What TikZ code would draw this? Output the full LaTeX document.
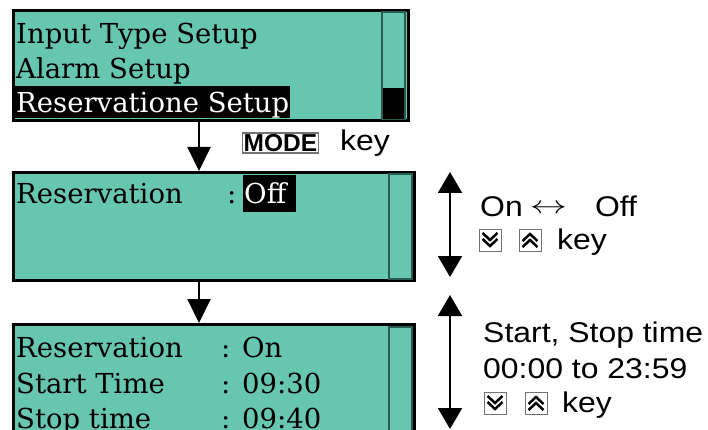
\documentclass[tikz,border=0pt]{standalone}
\usepackage{fontspec}
\newfontfamily\lcdfont{DejaVu Serif}
\newfontfamily\keyfont[FakeStretch=1.12]{Liberation Sans}
\newfontfamily\modefont{Liberation Sans}
\usetikzlibrary{arrows.meta}
\definecolor{lcdgreen}{RGB}{103,198,176}
\definecolor{lcdedge}{RGB}{40,92,80}
\begin{document}
\begin{tikzpicture}[x=1pt, y=-1pt,
  lcd/.style={draw=black, line width=3pt, fill=lcdgreen, inner sep=0},
  bar/.style={draw=lcdedge, line width=1.2pt},
  lcdtxt/.style={anchor=base west, inner sep=0, font=\lcdfont\fontsize{27.5}{30}\selectfont},
  sel/.style={lcdtxt, fill=black, text=white, inner xsep=1pt},
  keytxt/.style={anchor=base west, inner sep=0, font=\keyfont\fontsize{28.5}{30}\selectfont},
  modekey/.style={draw=black!55, line width=1.2pt, fill=white, anchor=west, inner xsep=1pt, inner ysep=0, minimum height=20pt, font=\modefont\bfseries\fontsize{24.5}{26}\selectfont},
  keybox/.style={draw=black!55, line width=1pt, fill=white, minimum size=22pt, inner sep=0},
  downkey/.style={keybox, path picture={
    \draw[black, line width=2.5pt] ([shift={(-7.5pt,7pt)}]path picture bounding box.center) -- ([shift={(0pt,0pt)}]path picture bounding box.center) -- ([shift={(7.5pt,7pt)}]path picture bounding box.center);
    \draw[black, line width=2.5pt] ([shift={(-7.5pt,1pt)}]path picture bounding box.center) -- ([shift={(0pt,-6pt)}]path picture bounding box.center) -- ([shift={(7.5pt,1pt)}]path picture bounding box.center);}},
  upkey/.style={keybox, path picture={
    \draw[black, line width=2.5pt] ([shift={(-7.5pt,-7pt)}]path picture bounding box.center) -- ([shift={(0pt,0pt)}]path picture bounding box.center) -- ([shift={(7.5pt,-7pt)}]path picture bounding box.center);
    \draw[black, line width=2.5pt] ([shift={(-7.5pt,-1pt)}]path picture bounding box.center) -- ([shift={(0pt,6pt)}]path picture bounding box.center) -- ([shift={(7.5pt,-1pt)}]path picture bounding box.center);}},
  flow/.style={line width=2pt, -{Triangle[width=23pt,length=24pt]}},
  updown/.style={line width=2pt, {Triangle[width=24pt,length=21pt]}-{Triangle[width=24pt,length=21pt]}}]
  \useasboundingbox (0,0) rectangle (708,430);
  \clip (0,0) rectangle (708,430);
  % menu screen
  \node[lcd, minimum width=395pt, minimum height=110pt] (lcd1) at (211,65.5) {};
  \draw[bar] (382,12) rectangle (405,119.5);
  \fill (383,88) rectangle (404.4,119);
  \node[lcdtxt] (inp) at (16,44) {Input Type Setup};
  \node[lcdtxt] (alm) at (16,79) {Alarm Setup};
  \node[sel, text height=27pt, text depth=5pt] (rsv) at (15,113) {Reservatione Setup};
  % reservation off
  \node[lcd, minimum width=401pt, minimum height=108pt] (lcd2) at (214,226.5) {};
  \draw[bar] (389,174) rectangle (412,279);
  \node[lcdtxt] (res2) at (16,204) {Reservation};
  \node[lcdtxt] (res2c) at (227,204) {:};
  \node[sel, text height=29pt, text depth=8pt, text width=51pt, align=left] (off) at (243,204) {Off};
  % reservation on
  \node[lcd, minimum width=401pt, minimum height=155pt] (lcd3) at (214,402) {};
  \draw[bar] (389,327) rectangle (412,475);
  \node[lcdtxt] (res3) at (16,357) {Reservation};
  \node[lcdtxt] (res3v) at (221,357) {: On};
  \node[lcdtxt] (start) at (16,393) {Start Time};
  \node[lcdtxt] (startv) at (221,393) {: 09:30};
  \node[lcdtxt] (stop) at (16,428) {Stop time};
  \node[lcdtxt] (stopv) at (221,428) {: 09:40};
  % arrows between screens
  \coordinate (col) at (199,0);
  \draw[flow] (lcd1.south -| col) -- (lcd2.north -| col);
  \draw[flow] (lcd2.south -| col) -- (lcd3.north -| col);
  \node[modekey] (mode) at (242,143) {MODE};
  \node[keytxt] (modelbl) at (340,151) {key};
  % up/down keys
  \coordinate (sw1top) at (450,172);
  \coordinate (sw1bot) at (450,277);
  \coordinate (sw2top) at (450,295);
  \coordinate (sw2bot) at (450,429);
  \draw[updown] (sw1top) -- (sw1bot);
  \draw[updown] (sw2top) -- (sw2bot);
  \node[keytxt] (onoff) at (480,216) {On\hspace{7pt}\raisebox{2pt}{\scalebox{1.5}[1]{$\leftrightarrow$}}\hspace{28pt}Off};
  \node[downkey] (dn1) at (490,240) {};
  \node[upkey] (up1) at (530,240) {};
  \node[keytxt] (key1) at (557,249) {key};
  \node[keytxt] (range1) at (483,342) {Start, Stop time};
  \node[keytxt] (range2) at (483,378) {00:00 to 23:59};
  \node[downkey] (dn2) at (495,403) {};
  \node[upkey] (up2) at (536,403) {};
  \node[keytxt] (key2) at (562,412) {key};
\end{tikzpicture}
\end{document}
